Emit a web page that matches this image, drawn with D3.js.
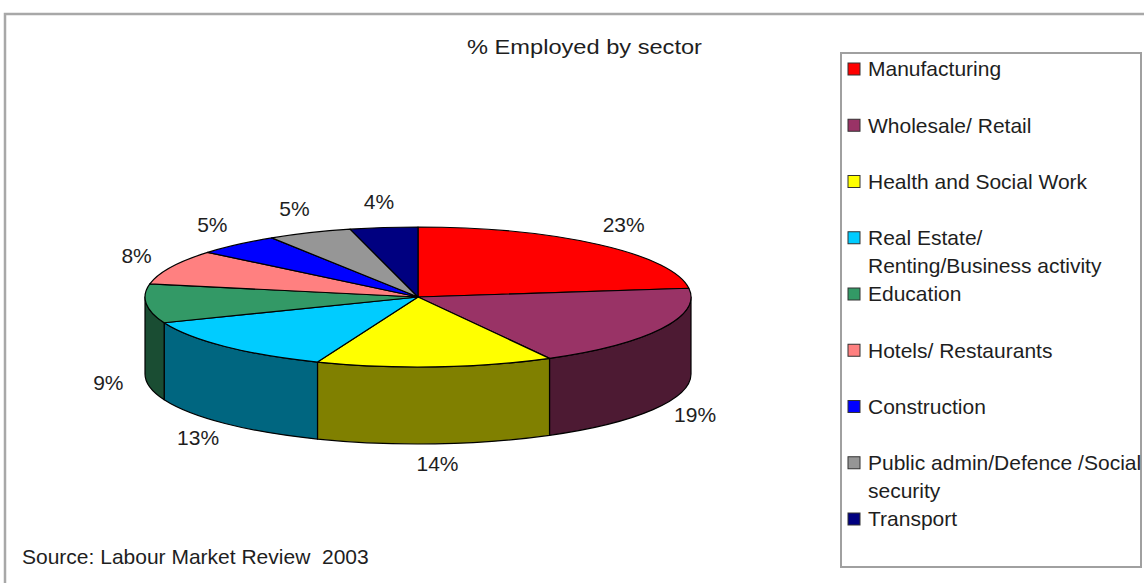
<!DOCTYPE html>
<html>
<head>
<meta charset="utf-8">
<script src="https://cdn.jsdelivr.net/npm/d3@7/dist/d3.min.js"></script>
<style>
  html, body { margin: 0; padding: 0; background: #fff; }
  svg { display: block; }
  text { font-family: "Liberation Sans", Arial, sans-serif; fill: #1e1e1e; }
</style>
</head>
<body>
<svg id="chart" width="1144" height="583"></svg>
<script>
// Employment share by sector (percent), clockwise from 12 o'clock
const sectors = [
  "Manufacturing",
  "Wholesale/ Retail",
  "Health and Social Work",
  "Real Estate/ Renting/Business activity",
  "Education",
  "Hotels/ Restaurants",
  "Construction",
  "Public admin/Defence /Social security",
  "Transport"
];
const shares = [23, 19, 14, 13, 9, 8, 5, 5, 4];

// Legend text, wrapped as it is laid out in the key
const legendLines = [
  ["Manufacturing"],
  ["Wholesale/ Retail"],
  ["Health and Social Work"],
  ["Real Estate/", "Renting/Business activity"],
  ["Education"],
  ["Hotels/ Restaurants"],
  ["Construction"],
  ["Public admin/Defence /Social", "security"],
  ["Transport"]
];

const titleText = "% Employed by sector";
const sourceText = "Source: Labour Market Review\u00a0\u00a02003";

// Slice fills (top face); the side walls use a half-brightness shade of each
const sliceColors = ["#ff0000", "#993366", "#ffff00", "#00ccff", "#339966",
                     "#ff8080", "#0000ff", "#969696", "#000080"];

const svg = d3.select("#chart");

// Frame around the whole chart area
svg.append("rect")
  .attr("x", 5).attr("y", 14).attr("width", 1170).attr("height", 620)
  .attr("fill", "none").attr("stroke", "#a8a8a8").attr("stroke-width", 2.5);

// Title
svg.append("text")
  .attr("x", 467).attr("y", 47).attr("dy", "0.35em")
  .attr("font-size", 21)
  .attr("textLength", 235).attr("lengthAdjust", "spacingAndGlyphs")
  .text(titleText);

// Pie geometry: elliptical top face with an extruded wall
const cx = 418, cy = 297, rx = 273, ry = 70, depth = 77;
const pt = (a, dy = 0) => [cx + rx * Math.sin(a), cy - ry * Math.cos(a) + dy];

const pie = d3.pie().sort(null).value(d => d.value);
const arcs = pie(sectors.map((s, i) => ({ name: s, value: shares[i], color: sliceColors[i] })));

const wallShade = c => {
  const r = d3.rgb(c);
  return d3.rgb(r.r * 0.5, r.g * 0.5, r.b * 0.5).toString();
};

// Side walls (only the front half, angles between 90° and 270°, is visible)
const walls = svg.append("g");
arcs.forEach(d => {
  const a0 = Math.max(d.startAngle, Math.PI / 2);
  const a1 = Math.min(d.endAngle, 3 * Math.PI / 2);
  if (a1 <= a0) return;
  const p0 = pt(a0), p1 = pt(a1), q1 = pt(a1, depth), q0 = pt(a0, depth);
  const large = (a1 - a0) > Math.PI ? 1 : 0;
  const path = `M${p0}A${rx},${ry} 0 ${large} 1 ${p1}L${q1}A${rx},${ry} 0 ${large} 0 ${q0}Z`;
  walls.append("path")
    .attr("d", path)
    .attr("fill", wallShade(d.data.color))
    .attr("stroke", "#000").attr("stroke-width", 1.2).attr("stroke-linejoin", "round");
});

// Top faces
const tops = svg.append("g");
arcs.forEach(d => {
  const p0 = pt(d.startAngle), p1 = pt(d.endAngle);
  const large = (d.endAngle - d.startAngle) > Math.PI ? 1 : 0;
  const path = `M${cx},${cy}L${p0}A${rx},${ry} 0 ${large} 1 ${p1}Z`;
  tops.append("path")
    .attr("d", path)
    .attr("fill", d.data.color)
    .attr("stroke", "#000").attr("stroke-width", 1.2).attr("stroke-linejoin", "round");
});

// Percentage labels placed outside the rim
const lrx = rx + 38;
svg.append("g").selectAll("text")
  .data(arcs)
  .join("text")
  .attr("x", d => {
    const m = (d.startAngle + d.endAngle) / 2;
    return cx + lrx * Math.sin(m);
  })
  .attr("y", d => {
    const m = (d.startAngle + d.endAngle) / 2;
    const c = Math.cos(m);
    return c < 0 ? cy - (ry + 20) * c + depth : cy - (ry + 26) * c;
  })
  .attr("dy", "0.35em")
  .attr("text-anchor", "middle")
  .attr("font-size", 21)
  .text(d => d.data.value + "%");

// Legend
svg.append("rect")
  .attr("x", 841).attr("y", 53).attr("width", 300).attr("height", 514)
  .attr("fill", "#fff").attr("stroke", "#a0a0a0").attr("stroke-width", 2);

const ly = d3.scaleLinear().domain([0, sectors.length - 1]).range([69, 519]);
const lineGap = 28;

const items = svg.append("g").selectAll("g")
  .data(arcs)
  .join("g")
  .attr("transform", (d, i) => `translate(0,${ly(i)})`);

items.append("rect")
  .attr("x", 848).attr("y", -6).attr("width", 12).attr("height", 12)
  .attr("fill", d => d.data.color)
  .attr("stroke", "#333").attr("stroke-width", 1);

items.append("text")
  .attr("font-size", 21)
  .selectAll("tspan")
  .data((d, i) => legendLines[i])
  .join("tspan")
  .attr("x", 868)
  .attr("y", (t, j) => j * lineGap)
  .attr("dy", "0.35em")
  .text(t => t);

// Source note
svg.append("text")
  .attr("x", 22).attr("y", 557).attr("dy", "0.35em")
  .attr("font-size", 21)
  .text(sourceText);
</script>
</body>
</html>
